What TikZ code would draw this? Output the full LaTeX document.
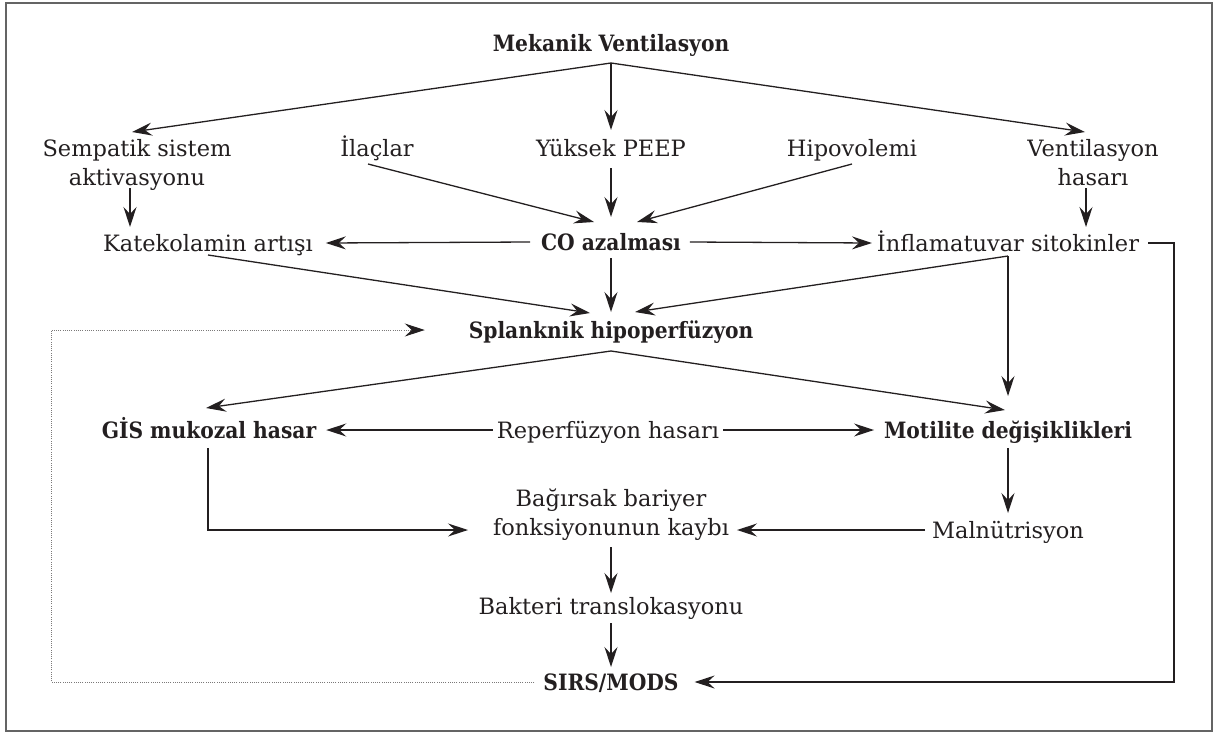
\documentclass[tikz,border=0pt]{standalone}
\usepackage{fontspec}
\setmainfont{DejaVu Serif}[BoldFont={DejaVu Serif Condensed Bold}]
\usetikzlibrary{arrows.meta}
\definecolor{ink}{RGB}{35,31,32}
\definecolor{framegray}{RGB}{100,100,100}
\newcommand{\myline}[1]{\smash{#1}\rule[-2pt]{0pt}{20pt}}
\begin{document}
\begin{tikzpicture}[x=1pt,y=-1pt,
  lbl/.style={inner sep=0pt, outer sep=0pt, text height=18pt, text depth=2pt, font=\fontsize{22.5}{29}\selectfont, text=ink},
  lblb/.style={lbl, font=\fontsize{22.5}{29}\selectfont\bfseries},
  lbltwo/.style={inner sep=0pt, outer sep=0pt, align=center, font=\fontsize{22.5}{29}\selectfont, text=ink},
  arr/.style={draw=ink, line width=1.3pt, -{Stealth[length=20pt,width=13pt,inset=7pt]}},
  fb/.style={draw=ink!60, line width=1pt, dash pattern=on 1pt off 1.2pt, -{Stealth[length=20pt,width=13pt,inset=7pt,color=ink]}}]
\useasboundingbox (0,0) rectangle (1217,734);
\draw[framegray, line width=2pt] (6,3) rectangle (1212,731);

\node[lblb] (mv) at (611,43) {Mekanik Ventilasyon};
\node[lbltwo] (sem) at (137,162.5) {\myline{Sempatik sistem}\\\myline{aktivasyonu}};
\node[lbl] (ila) at (377,148) {İlaçlar};
\node[lbl] (peep) at (611,148) {Yüksek PEEP};
\node[lbl] (hip) at (852,148) {Hipovolemi};
\node[lbltwo] (vh) at (1093,162.5) {\myline{Ventilasyon}\\\myline{hasarı}};
\node[lbl] (kat) at (208,243) {Katekolamin artışı};
\node[lblb] (co) at (611,242) {CO azalması};
\node[lbl] (inf) at (1008,243) {İnflamatuvar sitokinler};
\node[lblb] (spl) at (611,330) {Splanknik hipoperfüzyon};
\node[lblb] (gis) at (209,430) {GİS mukozal hasar};
\node[lbl] (rep) at (608,430) {Reperfüzyon hasarı};
\node[lblb] (mot) at (1008,430) {Motilite değişiklikleri};
\node[lbltwo] (bag) at (611,512.5) {\myline{Bağırsak bariyer}\\\myline{fonksiyonunun kaybı}};
\node[lbl] (mal) at (1008,530) {Malnütrisyon};
\node[lbl] (bak) at (611,606) {Bakteri translokasyonu};
\node[lblb] (sirs) at (611,682) {SIRS/MODS};

\coordinate (mvj) at ([shift={(0,10)}]mv.south);
\draw[arr] (mvj) -- ([shift={(-5,-6)}]sem.north);
\draw[arr] (mvj) -- ([shift={(0,-8)}]peep.north);
\draw[arr] (mvj) -- ([shift={(-8,-6)}]vh.north);
\draw[arr] ([shift={(-7,1)}]sem.south) -- ([shift={(-7,-6)}]sem.south |- kat.north);
\draw[arr] ([shift={(-7,1)}]vh.south) -- ([shift={(-7,-6)}]vh.south |- inf.north);
\draw[arr] ([shift={(-9,6)}]ila.south) -- ([shift={(-17,-10)}]co.north);
\draw[arr] ([shift={(0,10)}]peep.south) -- ([shift={(0,-15)}]co.north);
\draw[arr] ([shift={(0,6)}]hip.south) -- ([shift={(26,-10)}]co.north);
\draw[arr] ([shift={(-11,0)}]co.west) -- ([shift={(13,0)}]kat.east);
\draw[arr] ([shift={(9,0)}]co.east) -- ([shift={(-5,0)}]inf.west);
\draw[arr] ([shift={(0,2)}]kat.south) -- ([shift={(-21,-7)}]spl.north);
\draw[arr] ([shift={(0,6)}]co.south) -- ([shift={(0,-8)}]spl.north);
\coordinate (infj) at ([shift={(0,3)}]inf.south);
\draw[arr] (infj) -- ([shift={(24,-8)}]spl.north);
\draw[arr] (infj) -- ([shift={(0,-24)}]infj |- mot.north);
\draw[arr] ([shift={(9,0)}]inf.east) -- ++(26,0) |- ([shift={(16,0)}]sirs.east);
\coordinate (lp) at (51,330);
\draw[fb] ([shift={(-9,0)}]sirs.west) -| (lp) -- ([shift={(-44,0)}]spl.west);

\coordinate (splj) at ([shift={(0,11)}]spl.south);
\draw[arr] (splj) -- ([shift={(-3,-12)}]gis.north);
\draw[arr] (splj) -- ([shift={(-3,-10)}]mot.north);
\draw[arr] ([shift={(-4,0)}]rep.west) -- ([shift={(10,0)}]gis.east);
\draw[arr] ([shift={(4,0)}]rep.east) -- ([shift={(-10,0)}]mot.west);
\draw[arr] ([shift={(-1,8)}]gis.south) |- ([shift={(-25,17.5)}]bag.west);
\draw[arr] ([shift={(0,8)}]mot.south) -- ([shift={(0,-7)}]mal.north);
\draw[arr] ([shift={(-7,0)}]mal.west) -- ([shift={(8,17.5)}]bag.east);
\draw[arr] ([shift={(0,10)}]bag.south) -- ([shift={(0,-3)}]bak.north);
\draw[arr] ([shift={(0,7)}]bak.south) -- ([shift={(0,-5)}]sirs.north);
\end{tikzpicture}
\end{document}
